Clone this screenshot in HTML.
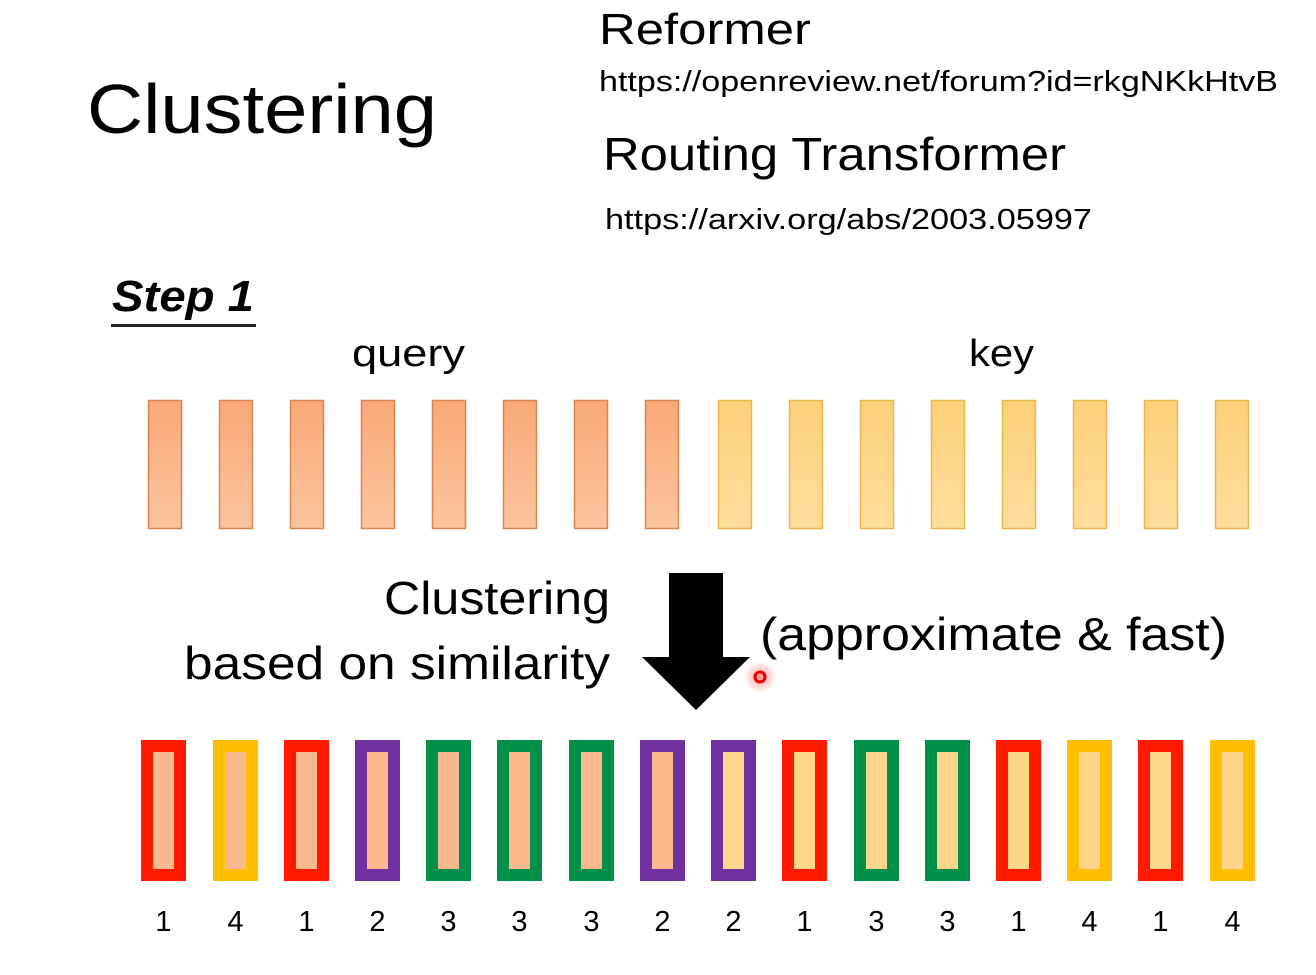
<!DOCTYPE html>
<html><head><meta charset="utf-8"><style>
html,body{margin:0;padding:0;background:#fff;width:1316px;height:975px;overflow:hidden}
svg{display:block}
text{font-family:"Liberation Sans",sans-serif;fill:#000}
</style></head><body>
<svg width="1316" height="975" viewBox="0 0 1316 975" xmlns="http://www.w3.org/2000/svg">
<defs>
<linearGradient id="go" x1="0" y1="0" x2="0" y2="1"><stop offset="0" stop-color="#f9a877"/><stop offset="1" stop-color="#fbc59f"/></linearGradient>
<linearGradient id="gy" x1="0" y1="0" x2="0" y2="1"><stop offset="0" stop-color="#fdd07a"/><stop offset="1" stop-color="#fedd9c"/></linearGradient>
<radialGradient id="glow"><stop offset="0" stop-color="#ff3030" stop-opacity="0.5"/><stop offset="1" stop-color="#ff3030" stop-opacity="0"/></radialGradient>
</defs>
<text x="87" y="133" font-size="70" textLength="350" lengthAdjust="spacingAndGlyphs">Clustering</text>
<text x="599" y="44" font-size="44" textLength="212" lengthAdjust="spacingAndGlyphs">Reformer</text>
<text x="599" y="91" font-size="29" textLength="679" lengthAdjust="spacingAndGlyphs">https://openreview.net/forum?id=rkgNKkHtvB</text>
<text x="603" y="170" font-size="46" textLength="463" lengthAdjust="spacingAndGlyphs">Routing Transformer</text>
<text x="605" y="229" font-size="29" textLength="487" lengthAdjust="spacingAndGlyphs">https://arxiv.org/abs/2003.05997</text>
<text x="112" y="311" font-size="44" font-weight="bold" font-style="italic" textLength="142" lengthAdjust="spacingAndGlyphs">Step 1</text>
<rect x="111" y="324" width="145" height="3" fill="#222"/>
<text x="352" y="366" font-size="38" textLength="113" lengthAdjust="spacingAndGlyphs">query</text>
<text x="969" y="366" font-size="38" textLength="65" lengthAdjust="spacingAndGlyphs">key</text>
<g stroke-width="1.5">
<rect x="148.5" y="400.5" width="33" height="128" fill="url(#go)" stroke="#d9854f"/>
<rect x="219.5" y="400.5" width="33" height="128" fill="url(#go)" stroke="#d9854f"/>
<rect x="290.5" y="400.5" width="33" height="128" fill="url(#go)" stroke="#d9854f"/>
<rect x="361.5" y="400.5" width="33" height="128" fill="url(#go)" stroke="#d9854f"/>
<rect x="432.5" y="400.5" width="33" height="128" fill="url(#go)" stroke="#d9854f"/>
<rect x="503.5" y="400.5" width="33" height="128" fill="url(#go)" stroke="#d9854f"/>
<rect x="574.5" y="400.5" width="33" height="128" fill="url(#go)" stroke="#d9854f"/>
<rect x="645.5" y="400.5" width="33" height="128" fill="url(#go)" stroke="#d9854f"/>
<rect x="718.5" y="400.5" width="33" height="128" fill="url(#gy)" stroke="#e8b84a"/>
<rect x="789.5" y="400.5" width="33" height="128" fill="url(#gy)" stroke="#e8b84a"/>
<rect x="860.5" y="400.5" width="33" height="128" fill="url(#gy)" stroke="#e8b84a"/>
<rect x="931.5" y="400.5" width="33" height="128" fill="url(#gy)" stroke="#e8b84a"/>
<rect x="1002.5" y="400.5" width="33" height="128" fill="url(#gy)" stroke="#e8b84a"/>
<rect x="1073.5" y="400.5" width="33" height="128" fill="url(#gy)" stroke="#e8b84a"/>
<rect x="1144.5" y="400.5" width="33" height="128" fill="url(#gy)" stroke="#e8b84a"/>
<rect x="1215.5" y="400.5" width="33" height="128" fill="url(#gy)" stroke="#e8b84a"/>
</g>
<text x="384" y="614" font-size="46" textLength="226" lengthAdjust="spacingAndGlyphs">Clustering</text>
<text x="184" y="679" font-size="46" textLength="426" lengthAdjust="spacingAndGlyphs">based on similarity</text>
<text x="760" y="650" font-size="46" textLength="467" lengthAdjust="spacingAndGlyphs">(approximate &amp; fast)</text>
<polygon points="669,573 723,573 723,657 750,657 696,710 642,657 669,657" fill="#000"/>
<circle cx="760" cy="677" r="16" fill="url(#glow)"/>
<circle cx="760" cy="677" r="5" fill="none" stroke="#e00" stroke-width="3"/>
<g>
<rect x="141" y="740" width="45" height="141" fill="#ff1a00"/><rect x="153" y="752" width="21" height="117" fill="#fbb98e"/>
<rect x="213" y="740" width="45" height="141" fill="#ffbf00"/><rect x="225" y="752" width="21" height="117" fill="#fbb98e"/>
<rect x="284" y="740" width="45" height="141" fill="#ff1a00"/><rect x="296" y="752" width="21" height="117" fill="#fbb98e"/>
<rect x="355" y="740" width="45" height="141" fill="#7030a0"/><rect x="367" y="752" width="21" height="117" fill="#fbb98e"/>
<rect x="426" y="740" width="45" height="141" fill="#00904a"/><rect x="438" y="752" width="21" height="117" fill="#fbb98e"/>
<rect x="497" y="740" width="45" height="141" fill="#00904a"/><rect x="509" y="752" width="21" height="117" fill="#fbb98e"/>
<rect x="569" y="740" width="45" height="141" fill="#00904a"/><rect x="581" y="752" width="21" height="117" fill="#fbb98e"/>
<rect x="640" y="740" width="45" height="141" fill="#7030a0"/><rect x="652" y="752" width="21" height="117" fill="#fbb98e"/>
<rect x="711" y="740" width="45" height="141" fill="#7030a0"/><rect x="723" y="752" width="21" height="117" fill="#fed58a"/>
<rect x="782" y="740" width="45" height="141" fill="#ff1a00"/><rect x="794" y="752" width="21" height="117" fill="#fed58a"/>
<rect x="854" y="740" width="45" height="141" fill="#00904a"/><rect x="866" y="752" width="21" height="117" fill="#fed58a"/>
<rect x="925" y="740" width="45" height="141" fill="#00904a"/><rect x="937" y="752" width="21" height="117" fill="#fed58a"/>
<rect x="996" y="740" width="45" height="141" fill="#ff1a00"/><rect x="1008" y="752" width="21" height="117" fill="#fed58a"/>
<rect x="1067" y="740" width="45" height="141" fill="#ffbf00"/><rect x="1079" y="752" width="21" height="117" fill="#fed58a"/>
<rect x="1138" y="740" width="45" height="141" fill="#ff1a00"/><rect x="1150" y="752" width="21" height="117" fill="#fed58a"/>
<rect x="1210" y="740" width="45" height="141" fill="#ffbf00"/><rect x="1222" y="752" width="21" height="117" fill="#fed58a"/>
</g>
<g font-size="29" text-anchor="middle">
<text x="163.5" y="931">1</text><text x="235.5" y="931">4</text><text x="306.5" y="931">1</text><text x="377.5" y="931">2</text>
<text x="448.5" y="931">3</text><text x="519.5" y="931">3</text><text x="591.5" y="931">3</text><text x="662.5" y="931">2</text>
<text x="733.5" y="931">2</text><text x="804.5" y="931">1</text><text x="876.5" y="931">3</text><text x="947.5" y="931">3</text>
<text x="1018.5" y="931">1</text><text x="1089.5" y="931">4</text><text x="1160.5" y="931">1</text><text x="1232.5" y="931">4</text>
</g>
</svg>
</body></html>
